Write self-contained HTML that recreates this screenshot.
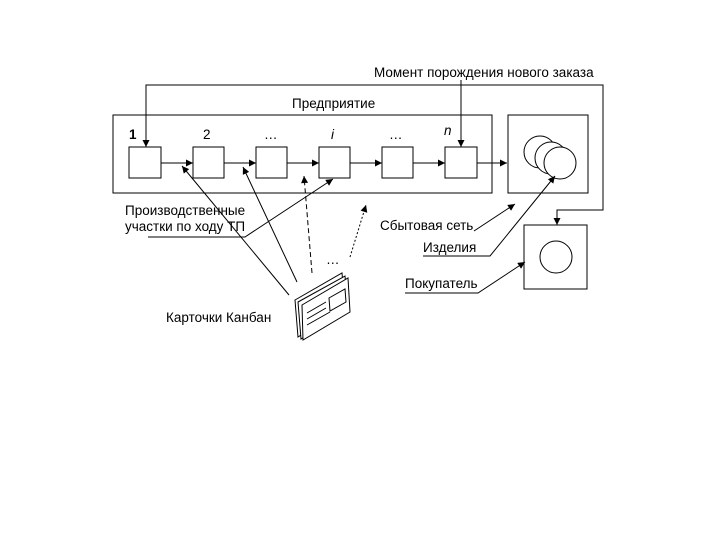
<!DOCTYPE html>
<html><head><meta charset="utf-8"><style>
body{margin:0;background:#fff}
svg{display:block}
text{font-family:"Liberation Sans",sans-serif;font-size:13.5px;fill:#000}
</style></head><body>
<svg width="720" height="540" viewBox="0 0 720 540" xmlns="http://www.w3.org/2000/svg">
<defs>
<marker id="a" viewBox="0 0 10 10" refX="10" refY="5" markerWidth="9" markerHeight="7" orient="auto" markerUnits="userSpaceOnUse"><path d="M0,0L10,5L0,10z" fill="#000"/></marker>
</defs>
<g fill="none" stroke="#000" stroke-width="1">
<rect x="113" y="115" width="379" height="78"/>
<rect x="508" y="115" width="80" height="78"/>
<rect x="524" y="225" width="63" height="64"/>
<rect x="129" y="147" width="32" height="31"/>
<rect x="193" y="147" width="31" height="31"/>
<rect x="256" y="147" width="31" height="31"/>
<rect x="319" y="147" width="31" height="31"/>
<rect x="382" y="147" width="31" height="31"/>
<rect x="445" y="147" width="32" height="31"/>
<circle cx="540" cy="152" r="16" fill="#fff"/>
<circle cx="551" cy="158" r="16" fill="#fff"/>
<circle cx="560" cy="163" r="16" fill="#fff"/>
<circle cx="556" cy="257" r="16"/>
<line x1="161" y1="163" x2="193" y2="163" marker-end="url(#a)"/>
<line x1="224" y1="163" x2="256" y2="163" marker-end="url(#a)"/>
<line x1="287" y1="163" x2="319" y2="163" marker-end="url(#a)"/>
<line x1="350" y1="163" x2="382" y2="163" marker-end="url(#a)"/>
<line x1="413" y1="163" x2="445" y2="163" marker-end="url(#a)"/>
<line x1="477" y1="163" x2="507" y2="163" marker-end="url(#a)"/>
<polyline points="146,147 146,85 603,85 603,210 557,210 557,225" />
<line x1="146" y1="100" x2="146" y2="147" marker-end="url(#a)"/>
<line x1="557" y1="210" x2="557" y2="225" marker-end="url(#a)"/>
<line x1="461" y1="80" x2="461" y2="147" marker-end="url(#a)"/>
<line x1="289" y1="295" x2="182" y2="166" marker-end="url(#a)"/>
<line x1="297" y1="282" x2="243" y2="167" marker-end="url(#a)"/>
<line x1="312" y1="273" x2="304" y2="176" stroke-dasharray="5,3" marker-end="url(#a)"/>
<polyline points="148,237 245,237 333,179" marker-end="url(#a)"/>
<line x1="350" y1="257" x2="366" y2="205" stroke-dasharray="2,2" marker-end="url(#a)"/>
<line x1="474" y1="231" x2="515" y2="204" marker-end="url(#a)"/>
<polyline points="423,256 490,256 555,176" marker-end="url(#a)"/>
<polyline points="405,293 478,293 525,262" marker-end="url(#a)"/>
<g fill="#fff">
<polygon points="295,300 342,273 345,307 298,337"/>
<polygon points="298,302 345,276 348,310 301,339"/>
<polygon points="302,305 348,278 350,312 303,340"/>
<polygon points="329,298 345,289 346,302 330,311"/>
</g>
<line x1="307" y1="313" x2="326" y2="302"/>
<line x1="307" y1="319" x2="326" y2="308"/>
<line x1="307" y1="325" x2="330" y2="312"/>
</g>
<text x="374" y="77">Момент порождения нового заказа</text>
<text x="292" y="108">Предприятие</text>
<text x="129" y="139" font-weight="bold">1</text>
<text x="203" y="139">2</text>
<text x="264" y="139">…</text>
<text x="331" y="139" font-style="italic">i</text>
<text x="389" y="139">…</text>
<text x="444" y="135" font-style="italic">n</text>
<text x="125" y="215">Производственные</text>
<text x="125" y="231">участки по ходу ТП</text>
<text x="326" y="264">…</text>
<text x="380" y="230">Сбытовая сеть</text>
<text x="423" y="252">Изделия</text>
<text x="405" y="288">Покупатель</text>
<text x="166" y="322">Карточки Канбан</text>
</svg>
</body></html>
